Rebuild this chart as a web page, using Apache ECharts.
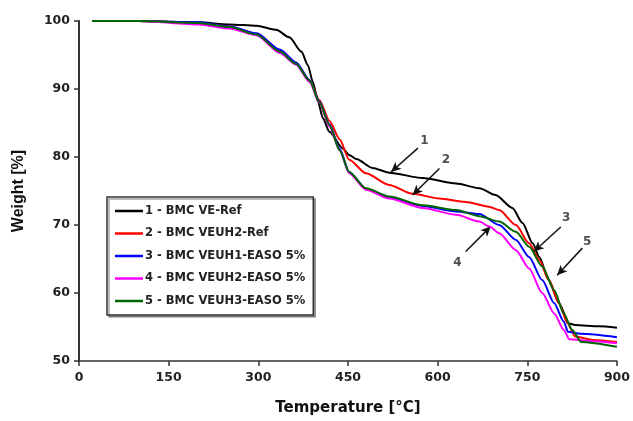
<!DOCTYPE html>
<html lang="en">
<head>
    <meta charset="utf-8">
    <title>TGA curves</title>
    <script src="https://cdn.jsdelivr.net/npm/echarts@6/dist/echarts.min.js"></script>
    <style type="text/css">
        body {
            margin: 0;
            background: #fff;
        }

        #main {
            width: 633px;
            height: 421px;
        }
    </style>
</head>
<body>
<div id="main"></div>

<script type="text/javascript">
    // series names as in the legend
    var names = ['1 - BMC VE-Ref', '2 - BMC VEUH2-Ref', '3 - BMC VEUH1-EASO 5%',
        '4 - BMC VEUH2-EASO 5%', '5 - BMC VEUH3-EASO 5%'];
    var colors = ['#000000', '#ff0000', '#0000ff', '#ff00ff', '#006600'];

    // temperatures [°C] and weights [%]
    var temp1 = [22, 100, 200, 252, 297, 330, 352, 372, 383, 391, 400, 408, 419, 441, 452, 464, 491, 519, 575, 631, 670, 697, 725, 742, 759, 770, 786, 803, 820, 830, 870, 900];
    var weight1 = [100, 100, 99.8, 99.5, 99.3, 98.7, 97.6, 95.5, 93.5, 91.1, 88.1, 85.7, 83.7, 81.3, 80.3, 79.7, 78.4, 77.7, 76.9, 76.1, 75.4, 74.4, 72.5, 70.3, 67.3, 65.3, 61.9, 58.5, 55.5, 55.3, 55.1, 54.9];

    var temp2 = [22, 100, 200, 252, 297, 336, 363, 386, 402, 419, 436, 452, 480, 519, 558, 603, 647, 686, 703, 731, 753, 770, 786, 803, 817, 830, 860, 900];
    var weight2 = [100, 100, 99.7, 99.2, 98.1, 95.7, 93.8, 91.3, 88.4, 85.3, 82.6, 79.6, 77.6, 75.9, 74.6, 73.9, 73.4, 72.7, 72.2, 70.0, 67.3, 64.9, 61.9, 58.5, 55.6, 53.6, 53.1, 52.8];

    var temp3 = [22, 100, 200, 252, 297, 336, 363, 386, 402, 419, 436, 452, 480, 519, 575, 631, 670, 703, 731, 753, 775, 795, 811, 818, 840, 900];
    var weight3 = [100, 100, 99.8, 99.2, 98.2, 95.8, 93.9, 91.3, 88.2, 84.8, 81.2, 77.8, 75.3, 74.0, 72.8, 72.0, 71.6, 70.0, 67.8, 65.3, 61.9, 58.5, 55.8, 54.3, 54.0, 53.5];

    var temp4 = [22, 100, 200, 252, 297, 336, 363, 386, 402, 419, 436, 452, 480, 519, 575, 631, 670, 686, 703, 731, 753, 775, 795, 811, 820, 860, 900];
    var weight4 = [100, 100, 99.5, 98.9, 97.9, 95.3, 93.6, 91.0, 88.0, 84.5, 81.0, 77.6, 75.2, 73.9, 72.5, 71.5, 70.5, 69.8, 68.8, 66.3, 63.6, 60.0, 57.0, 54.6, 53.2, 52.9, 52.6];

    var temp5 = [22, 100, 200, 252, 297, 336, 363, 386, 402, 419, 436, 452, 480, 519, 575, 631, 670, 703, 731, 753, 775, 795, 811, 825, 840, 900];
    var weight5 = [100, 100, 99.7, 99.1, 98.0, 95.5, 93.7, 91.2, 88.1, 84.7, 81.0, 77.8, 75.4, 74.2, 72.9, 72.2, 71.3, 70.5, 69.0, 66.8, 63.9, 60.4, 57.0, 54.6, 52.8, 52.1];

    // arrows: [fromT, fromW, toT, toW] and label positions [T, W, text]
    var arrows = [
        [567, 81.3, 522, 77.8],
        [603, 78.3, 558, 74.4],
        [806, 69.7, 761, 66.1],
        [647, 66.1, 689, 69.8],
        [842, 66.6, 800, 62.6]
    ];
    var arrowLabels = [
        [578, 82.3, '1'],
        [614, 79.6, '2'],
        [815, 71.0, '3'],
        [633, 64.4, '4'],
        [850, 67.5, '5']
    ];

    var temps = [temp1, temp2, temp3, temp4, temp5];
    var weights = [weight1, weight2, weight3, weight4, weight5];
    var wide = '"DejaVu Sans", Verdana, sans-serif';
    var arial = 'Arial, "Liberation Sans", sans-serif';

    function zip(xs, ys) {
        var out = [];
        for (var i = 0; i < xs.length; i++) {
            out.push([xs[i], ys[i]]);
        }
        return out;
    }

    var series = [];
    for (var i = 0; i < names.length; i++) {
        series.push({
            name: names[i],
            type: 'line',
            data: zip(temps[i], weights[i]),
            showSymbol: false,
            smooth: 0.25,
            smoothMonotone: 'x',
            lineStyle: {color: colors[i], width: 2},
            itemStyle: {color: colors[i]},
            z: 2 + i
        });
    }

    // arrows and their numbers
    series.push({
        name: 'arrows',
        type: 'scatter',
        data: arrowLabels.map(function (a) {
            return [a[0], a[1], a[2]];
        }),
        symbolSize: 0,
        silent: true,
        label: {
            show: true,
            position: 'inside',
            formatter: function (p) {
                return p.value[2];
            },
            fontFamily: wide,
            fontWeight: 'bold',
            fontSize: 12,
            color: '#222'
        },
        markLine: {
            silent: true,
            symbol: ['none', 'arrow'],
            symbolSize: [7, 10],
            label: {show: false},
            lineStyle: {color: '#111', width: 1.5, type: 'solid'},
            data: arrows.map(function (a) {
                return [{coord: [a[0], a[1]]}, {coord: [a[2], a[3]]}];
            })
        },
        z: 10
    });

    var myChart = echarts.init(document.getElementById('main'));
    var option = {
        animation: false,
        backgroundColor: '#fff',
        grid: {left: 79, right: 15, top: 21, bottom: 60},
        legend: {
            data: names,
            orient: 'vertical',
            left: 107,
            top: 197,
            icon: 'rect',
            itemWidth: 28,
            itemHeight: 2.5,
            itemGap: 8.5,
            padding: [7, 8, 7, 8],
            borderColor: '#333',
            borderWidth: 1.5,
            backgroundColor: '#fff',
            shadowColor: 'rgba(0,0,0,0.35)',
            shadowOffsetX: 2,
            shadowOffsetY: 2,
            textStyle: {
                fontFamily: wide,
                fontWeight: 'bold',
                fontSize: 11.5,
                lineHeight: 14,
                color: '#222',
                padding: [0, 0, 0, -3]
            }
        },
        xAxis: {
            type: 'value',
            min: 0,
            max: 900,
            interval: 150,
            name: 'Temperature [°C]',
            nameLocation: 'middle',
            nameGap: 40,
            nameTextStyle: {fontFamily: wide, fontWeight: 'bold', fontSize: 15, color: '#111'},
            axisLine: {lineStyle: {color: '#333', width: 1.5}},
            axisTick: {length: 5, lineStyle: {color: '#333', width: 1.5}},
            axisLabel: {fontFamily: wide, fontWeight: 'bold', fontSize: 12.5, color: '#222', margin: 10},
            splitLine: {show: false}
        },
        yAxis: {
            type: 'value',
            min: 50,
            max: 100,
            interval: 10,
            name: 'Weight [%]',
            nameLocation: 'middle',
            nameGap: 52,
            nameTextStyle: {fontFamily: arial, fontWeight: 'bold', fontSize: 16, color: '#111'},
            axisLine: {show: true, lineStyle: {color: '#333', width: 2}},
            axisTick: {show: true, length: 5, lineStyle: {color: '#333', width: 1.5}},
            axisLabel: {fontFamily: wide, fontWeight: 'bold', fontSize: 12.5, color: '#222', margin: 9},
            splitLine: {show: false}
        },
        series: series
    };
    myChart.setOption(option);
</script>
</body>
</html>
